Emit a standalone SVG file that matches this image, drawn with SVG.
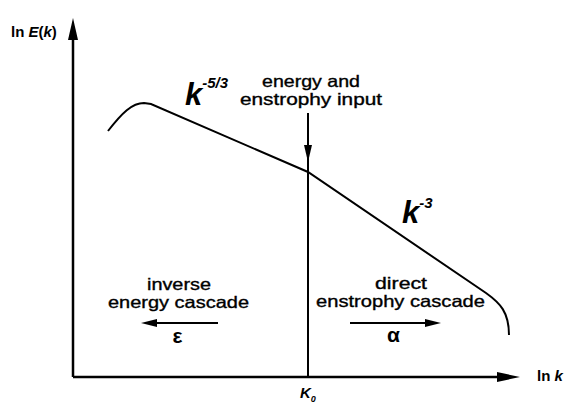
<svg xmlns="http://www.w3.org/2000/svg" width="581" height="419" viewBox="0 0 581 419">
<style>
.t{font-family:"Liberation Sans",Arial,sans-serif;fill:#000}
.lbl{font-size:16.5px;text-anchor:middle;stroke:#000;stroke-width:0.35}
.b{font-weight:bold}
.i{font-style:italic}
.ax{stroke:#000;stroke-width:2.5;fill:none}
.ln{stroke:#000;stroke-width:2;fill:none}
</style>
<rect width="581" height="419" fill="#fff"/>
<g id="connectors">
  <line class="ax" x1="73" y1="377" x2="73" y2="34"/>
  <polygon points="73,18 68,40 78,40" fill="#000"/>
  <line class="ax" x1="73" y1="377" x2="502" y2="377"/>
  <polygon points="520,377 497,372 497,382" fill="#000"/>
  <path id="curve" class="ln" d="M108,131 C122,113 132,103 144,103 L151,104 L308,172 L486,293 C500,303 509,312 509,335"/>
  <line class="ln" x1="308" y1="113" x2="308" y2="377"/>
  <polygon points="308,162 304,145 312,145" fill="#000"/>
  <line class="ln" x1="218" y1="323" x2="152" y2="323"/>
  <polygon points="141,323 157,319 157,327" fill="#000"/>
  <line class="ln" x1="350" y1="323" x2="430" y2="323"/>
  <polygon points="441,323 425,319 425,327" fill="#000"/>
</g>
<g id="axis-labels">
  <text class="t b" x="11" y="37" font-size="15">ln <tspan class="i">E</tspan>(<tspan class="i">k</tspan>)</text>
  <text class="t b" x="537" y="381" font-size="15">ln <tspan class="i">k</tspan></text>
  <text class="t b i" x="300" y="398" font-size="15">K<tspan font-size="9" dy="4">0</tspan></text>
</g>
<g id="slope-labels">
  <text class="t b i" x="185" y="105" font-size="31">k<tspan font-size="15" dy="-17">-5/3</tspan></text>
  <text class="t b i" x="402" y="223" font-size="31">k<tspan font-size="15" dy="-15">-3</tspan></text>
</g>
<g id="input-label">
  <text class="t lbl" x="311" y="87" textLength="98" lengthAdjust="spacingAndGlyphs">energy and</text>
  <text class="t lbl" x="311" y="105" textLength="142" lengthAdjust="spacingAndGlyphs">enstrophy input</text>
</g>
<g id="inverse-label">
  <text class="t lbl" x="179" y="290" textLength="64" lengthAdjust="spacingAndGlyphs">inverse</text>
  <text class="t lbl" x="178.5" y="308" textLength="141" lengthAdjust="spacingAndGlyphs">energy cascade</text>
  <text class="t b" x="177.5" y="343" font-size="21" text-anchor="middle">ε</text>
</g>
<g id="direct-label">
  <text class="t lbl" x="401" y="289" textLength="52" lengthAdjust="spacingAndGlyphs">direct</text>
  <text class="t lbl" x="400.5" y="307" textLength="169" lengthAdjust="spacingAndGlyphs">enstrophy cascade</text>
  <text class="t b" x="393.5" y="342" font-size="21" text-anchor="middle">α</text>
</g>
</svg>
